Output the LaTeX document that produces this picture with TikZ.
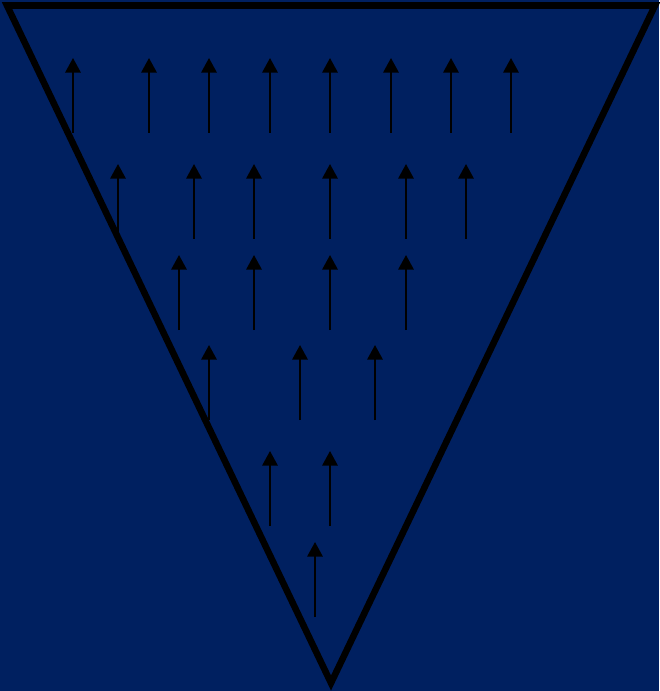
\documentclass[tikz,border=0pt]{standalone}
\usepackage{xcolor}
\definecolor{navybg}{HTML}{002060}
\usepackage{tikz}
\usetikzlibrary{arrows.meta}
\tikzset{
  funnel/.style = {draw=black,line width=4.9pt,line join=miter},
  sig/.style    = {-{Triangle[length=11pt,width=11.5pt]},line width=1.7pt,draw=black},
}
\newcommand{\uprow}[3]{%
  \foreach \x in {#3} {
    \coordinate (t#1-\x) at (\x,#2);
    \coordinate (h#1-\x) at (\x,#2-75);
    \draw[sig] (t#1-\x) -- (h#1-\x);
  }%
}

\begin{document}
\begin{tikzpicture}[x=0.75pt,y=-0.75pt]
  \fill[navybg] (0,0) rectangle (659,691);
  \useasboundingbox (0,0) rectangle (659,691);
  \coordinate (tl) at (7,5.5);
  \coordinate (tr) at (655,5.5);
  \coordinate (bt) at (331,683);
  \draw[funnel] (tl) -- (tr) -- (bt) -- cycle;
  % arrows, top row to bottom
  \uprow{1}{133}{73,149,209,270,330,391,451,511}
  \uprow{2}{239}{118,194,254,330,406,466}
  \uprow{3}{330}{179,254,330,406}
  \uprow{4}{420}{209,300,375}
  \uprow{5}{526}{270,330}
  \uprow{6}{617}{315}
\end{tikzpicture}
\end{document}
